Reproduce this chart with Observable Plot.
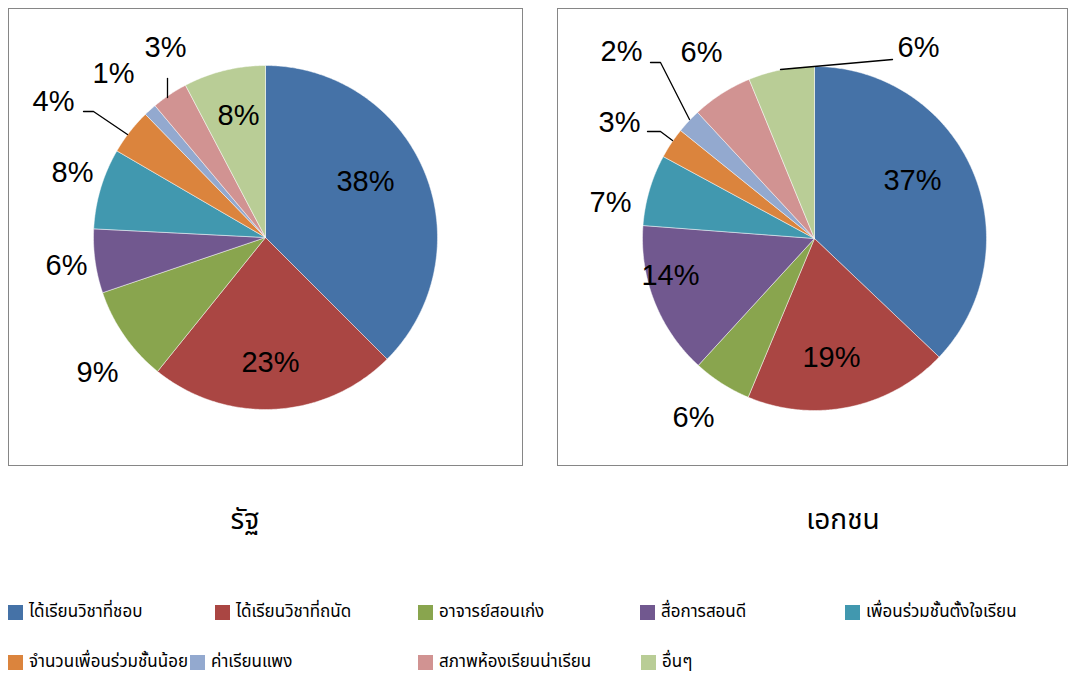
<!DOCTYPE html>
<html><head><meta charset="utf-8">
<script src="https://cdn.jsdelivr.net/npm/d3@7"></script>
<script src="https://cdn.jsdelivr.net/npm/@observablehq/plot@0.6"></script>
<style>
body{margin:0;background:#fff;}
#root{position:relative;width:1071px;height:679px;overflow:hidden;font-family:Tahoma,"Noto Sans Thai","Noto Sans","DejaVu Sans",sans-serif;}
.box{position:absolute;border:1px solid #868686;box-sizing:border-box;}
.title{position:absolute;font-size:28px;color:#000;transform:translate(-50%,-50%);white-space:nowrap;}
.leg{position:absolute;font-size:17px;color:#000;white-space:nowrap;display:flex;align-items:center;}
.sw{width:15px;height:15px;display:inline-block;margin-right:6px;}
</style></head><body><div id="root"></div>
<script>
// ---- data ----
const categories = ["ได้เรียนวิชาที่ชอบ","ได้เรียนวิชาที่ถนัด","อาจารย์สอนเก่ง","สื่อการสอนดี","เพื่อนร่วมชั้นตั้งใจเรียน","จำนวนเพื่อนร่วมชั้นน้อย","ค่าเรียนแพง","สภาพห้องเรียนน่าเรียน","อื่นๆ"];
const colors = ["#4572A7","#AA4643","#89A54E","#71588F","#4198AF","#DB843D","#93A9CF","#D19392","#B9CD96"];
const stateValues = [37.5, 23.3, 9.0, 6.0, 7.6, 4.3, 1.2, 3.4, 7.7];
const privateValues = [37.1, 19.2, 5.5, 14.4, 6.7, 2.9, 2.3, 5.7, 6.2];
const panelTitles = ["รัฐ", "เอกชน"];

// ---- layout (pixel offsets from pie centre) ----
const R = 172;
const stateLabelPos = [[100,-56],[5,125],[-168,135],[-199,28],[-193,-65],[-212,-136],[-152,-164],[-100,-190],[-27,-122]];
const privateLabelPos = [[98,-58],[17,119],[-121,179],[-144,37],[-204,-36],[-195,-116],[-193,-187],[-113,-186],[104,-191]];
const stateLeaders = [[[-182,-126],[-172,-126],[-138,-103]], [[-98,-159],[-98,-140]]];
const privateLeaders = [[[-167,-107],[-154,-107],[-142,-98]], [[-164,-176],[-154,-176],[-125,-119]], [[-34,-169],[78,-179]]];

const panels = [
  {values: stateValues, labels: stateLabelPos, leaders: stateLeaders, left: 8, width: 515, cx: 256, cy: 228, title: panelTitles[0], tx: 245},
  {values: privateValues, labels: privateLabelPos, leaders: privateLeaders, left: 557, width: 511, cx: 256, cy: 229, title: panelTitles[1], tx: 843}
];
const boxTop = 8, boxH = 458;
const root = document.getElementById("root");

function slicePoints(values){
  const total = d3.sum(values);
  let acc = 0; const pts = [];
  values.forEach((v,i) => {
    const a0 = acc/total*2*Math.PI; acc += v; const a1 = acc/total*2*Math.PI;
    const n = Math.max(2, Math.ceil((a1-a0)/(Math.PI/360)));
    pts.push({cat: categories[i], x: 0, y: 0});
    for (let k = 0; k <= n; k++) { const a = a0 + (a1-a0)*k/n; pts.push({cat: categories[i], x: R*Math.sin(a), y: -R*Math.cos(a)}); }
    pts.push({cat: categories[i], x: 0, y: 0});
  });
  return pts;
}

panels.forEach(p => {
  const box = document.createElement("div");
  box.className = "box";
  Object.assign(box.style, {left: p.left+"px", top: boxTop+"px", width: p.width+"px", height: boxH+"px"});
  const w = p.width - 2, h = boxH - 2;
  const labels = p.values.map((v,i) => ({x: p.labels[i][0], y: p.labels[i][1], text: Math.round(v) + "%"}));
  const leaders = p.leaders.flatMap((seg, j) => seg.map(([x,y]) => ({id: j, x, y})));
  const chart = Plot.plot({
    width: w, height: h, margin: 0,
    x: {domain: [-p.cx, w - p.cx], range: [0, w], axis: null},
    y: {domain: [-p.cy, h - p.cy], range: [0, h], axis: null},
    color: {domain: categories, range: colors},
    style: {background: "transparent", overflow: "visible"},
    marks: [
      Plot.line(slicePoints(p.values), {x: "x", y: "y", z: "cat", fill: "cat", stroke: "white", strokeWidth: 0.6, strokeOpacity: 0.8, curve: "linear"}),
      Plot.line(leaders, {x: "x", y: "y", z: "id", stroke: "black", strokeWidth: 1.3}),
      Plot.text(labels, {x: "x", y: "y", text: "text", fontSize: 29, fill: "black", fontFamily: "'Liberation Sans', Arial, sans-serif", textAnchor: "middle", lineAnchor: "middle"})
    ]
  });
  box.appendChild(chart);
  root.appendChild(box);
  const t = document.createElement("div");
  t.className = "title"; t.textContent = p.title;
  Object.assign(t.style, {left: p.tx+"px", top: "520px"});
  root.appendChild(t);
});

// legend
const legendPos = [[8,612],[215,612],[418,612],[640,612],[845,612],[8,662],[190,662],[418,662],[641,662]];
categories.forEach((c,i) => {
  const d = document.createElement("div");
  d.className = "leg";
  Object.assign(d.style, {left: legendPos[i][0]+"px", top: (legendPos[i][1]-12)+"px", height: "24px"});
  const s = document.createElement("span"); s.className = "sw"; s.style.background = colors[i];
  d.appendChild(s); d.appendChild(document.createTextNode(c));
  root.appendChild(d);
});
</script></body></html>
